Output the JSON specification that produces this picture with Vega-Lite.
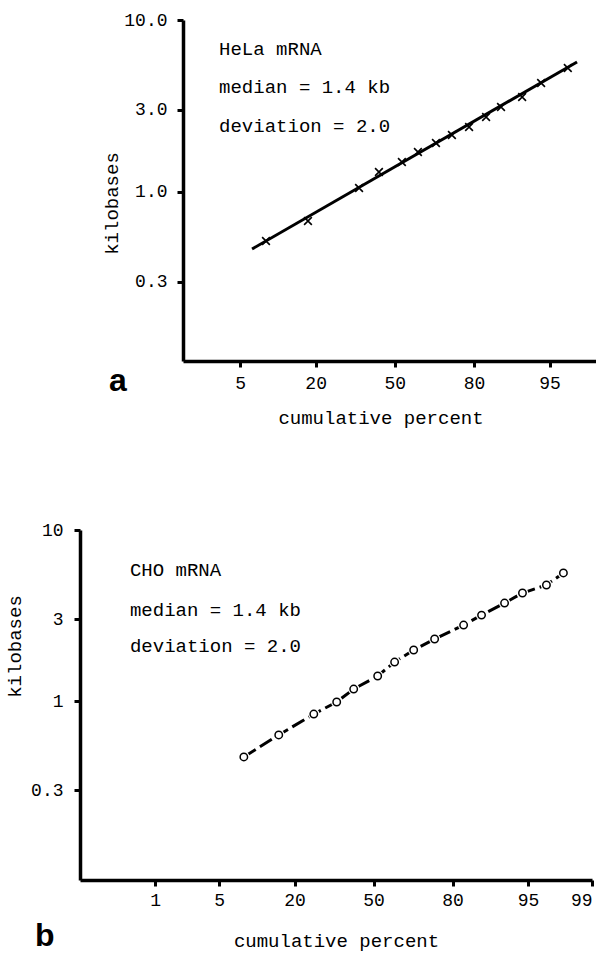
{
  "$schema": "https://vega.github.io/schema/vega-lite/v6.json",
  "padding": {"left": 5, "top": 11, "right": 0, "bottom": 0},
  "background": "white",
  "config": {
    "view": {"stroke": null},
    "axis": {
      "grid": false,
      "domainColor": "black",
      "domainWidth": 3.5,
      "tickColor": "black",
      "tickWidth": 3,
      "tickSize": 6,
      "labelFont": "Liberation Mono",
      "labelFontSize": 18,
      "labelColor": "black",
      "titleFont": "Liberation Mono",
      "titleFontSize": 19,
      "titleFontWeight": "normal",
      "titleColor": "black"
    }
  },
  "datasets": {
    "helaPoints": [
      {"pct": 8.55, "kb": 0.519},
      {"pct": 17.8, "kb": 0.678},
      {"pct": 35.2, "kb": 1.055},
      {"pct": 43.3, "kb": 1.307},
      {"pct": 53.0, "kb": 1.493},
      {"pct": 59.7, "kb": 1.708},
      {"pct": 66.9, "kb": 1.927},
      {"pct": 72.8, "kb": 2.145},
      {"pct": 78.5, "kb": 2.388},
      {"pct": 83.4, "kb": 2.729},
      {"pct": 87.05, "kb": 3.12},
      {"pct": 91.2, "kb": 3.565},
      {"pct": 94.0, "kb": 4.3},
      {"pct": 96.7, "kb": 5.26}
    ],
    "helaLine": [
      {"pct": 6.46, "kb": 0.466},
      {"pct": 97.36, "kb": 5.7}
    ],
    "helaText": [
      {"pct": 3.09, "kb": 6.78, "label": "HeLa mRNA"},
      {"pct": 3.09, "kb": 4.08, "label": "median = 1.4 kb"},
      {"pct": 3.09, "kb": 2.42, "label": "deviation = 2.0"}
    ],
    "choPoints": [
      {"pct": 8.35, "kb": 0.471},
      {"pct": 15.62, "kb": 0.633},
      {"pct": 26.21, "kb": 0.839},
      {"pct": 34.72, "kb": 0.987},
      {"pct": 41.61, "kb": 1.175},
      {"pct": 51.74, "kb": 1.4},
      {"pct": 58.86, "kb": 1.69},
      {"pct": 66.53, "kb": 1.987},
      {"pct": 74.22, "kb": 2.305},
      {"pct": 83.12, "kb": 2.78},
      {"pct": 87.49, "kb": 3.18},
      {"pct": 91.85, "kb": 3.74},
      {"pct": 94.36, "kb": 4.28},
      {"pct": 96.72, "kb": 4.77},
      {"pct": 97.84, "kb": 5.61}
    ],
    "choText": [
      {"pct": 0.473, "kb": 5.83, "label": "CHO mRNA"},
      {"pct": 0.473, "kb": 3.41, "label": "median = 1.4 kb"},
      {"pct": 0.473, "kb": 2.097, "label": "deviation = 2.0"}
    ]
  },
  "spacing": 94,
  "vconcat": [
    {
      "spacing": 0,
      "hconcat": [
        {
          "width": 22,
          "height": 341,
          "data": {"values": [{}]},
          "mark": {"type": "text", "text": ""}
        },
        {
          "width": 413,
          "height": 341,
          "title": {
            "text": "a",
            "orient": "bottom",
            "anchor": "start",
            "frame": "group",
            "dx": -74,
            "offset": -36,
            "baseline": "alphabetic",
            "font": "Liberation Sans",
            "fontSize": 32,
            "fontWeight": "bold",
            "color": "black"
          },
          "encoding": {
            "x": {
              "field": "probit",
              "type": "quantitative",
              "scale": {"domain": [-2.251, 2.138], "nice": false, "zero": false},
              "axis": {
                "values": [-1.6449, -0.8416, 0, 0.8416, 1.6449],
                "labelExpr": "format(cumulativeNormal(datum.value) * 100, '.0f')",
                "title": "cumulative percent",
                "labelPadding": 7,
                "titlePadding": 16,
                "titleX": 197.5
              }
            },
            "y": {
              "field": "kb",
              "type": "quantitative",
              "scale": {"type": "log", "domain": [0.104, 10], "nice": false},
              "axis": {
                "values": [0.3, 1, 3, 10],
                "format": ".1f",
                "title": "kilobases",
                "labelPadding": 10,
                "titlePadding": 2,
                "titleY": 183
              }
            }
          },
          "layer": [
            {
              "data": {"name": "helaLine"},
              "transform": [{"calculate": "quantileNormal(datum.pct / 100)", "as": "probit"}],
              "mark": {"type": "line", "color": "black", "strokeWidth": 3}
            },
            {
              "data": {"name": "helaPoints"},
              "transform": [{"calculate": "quantileNormal(datum.pct / 100)", "as": "probit"}],
              "mark": {
                "type": "point",
                "shape": "M-1,-1L1,1M-1,1L1,-1",
                "filled": false,
                "color": "black",
                "strokeWidth": 1.6,
                "size": 60,
                "opacity": 1
              }
            },
            {
              "data": {"name": "helaText"},
              "transform": [{"calculate": "quantileNormal(datum.pct / 100)", "as": "probit"}],
              "mark": {
                "type": "text",
                "align": "left",
                "baseline": "middle",
                "font": "Liberation Mono",
                "fontSize": 19,
                "color": "black"
              },
              "encoding": {"text": {"field": "label"}}
            }
          ]
        }
      ]
    },
    {
      "width": 512,
      "height": 350,
      "title": {
        "text": "b",
        "orient": "bottom",
        "anchor": "start",
        "frame": "group",
        "dx": -45,
        "offset": -4,
        "baseline": "alphabetic",
        "font": "Liberation Sans",
        "fontSize": 32,
        "fontWeight": "bold",
        "color": "black"
      },
      "encoding": {
        "x": {
          "field": "probit",
          "type": "quantitative",
          "scale": {"domain": [-3.127, 2.3263], "nice": false, "zero": false},
          "axis": {
            "values": [-2.3263, -1.6449, -0.8416, 0, 0.8416, 1.6449, 2.3263],
            "labelExpr": "format(cumulativeNormal(datum.value) * 100, '.0f')",
            "title": "cumulative percent",
            "labelPadding": 5,
            "titlePadding": 22
          }
        },
        "y": {
          "field": "kb",
          "type": "quantitative",
          "scale": {"type": "log", "domain": [0.0898, 10], "nice": false},
          "axis": {
            "values": [0.3, 1, 3, 10],
            "format": "~g",
            "title": "kilobases",
            "labelPadding": 11,
            "titlePadding": 6,
            "titleY": 116
          }
        }
      },
      "layer": [
        {
          "data": {"name": "choPoints"},
          "transform": [{"calculate": "quantileNormal(datum.pct / 100)", "as": "probit"}],
          "mark": {"type": "line", "color": "black", "strokeWidth": 3, "strokeDash": [14, 5]}
        },
        {
          "data": {"name": "choPoints"},
          "transform": [{"calculate": "quantileNormal(datum.pct / 100)", "as": "probit"}],
          "mark": {"type": "point", "shape": "circle", "filled": true, "fill": "white", "stroke": null, "size": 130, "opacity": 1}
        },
        {
          "data": {"name": "choPoints"},
          "transform": [{"calculate": "quantileNormal(datum.pct / 100)", "as": "probit"}],
          "mark": {"type": "point", "shape": "circle", "filled": true, "fill": "white", "stroke": "black", "strokeWidth": 1.5, "size": 55, "opacity": 1}
        },
        {
          "data": {"name": "choText"},
          "transform": [{"calculate": "quantileNormal(datum.pct / 100)", "as": "probit"}],
          "mark": {
            "type": "text",
            "align": "left",
            "baseline": "middle",
            "font": "Liberation Mono",
            "fontSize": 19,
            "color": "black"
          },
          "encoding": {"text": {"field": "label"}}
        }
      ]
    }
  ]
}
